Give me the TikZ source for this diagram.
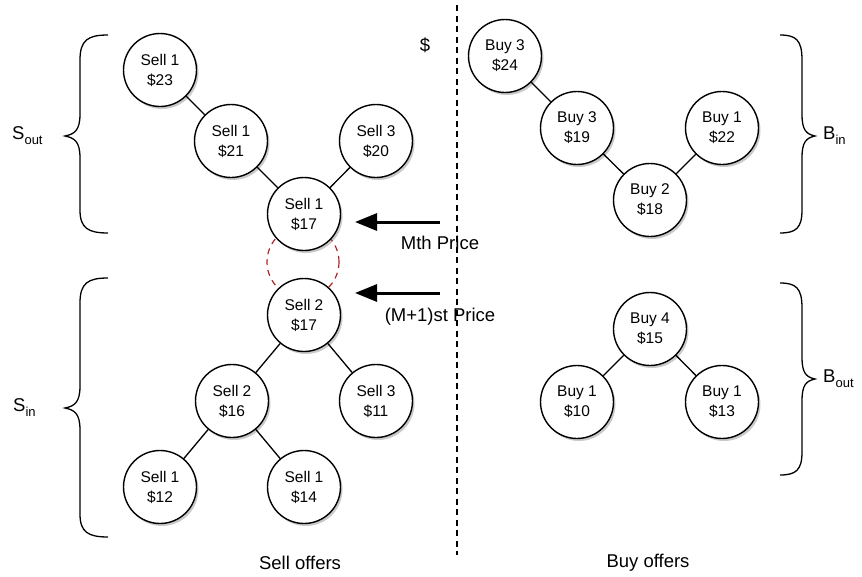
\documentclass[tikz,border=0pt]{standalone}
\usepackage{fontspec}
\setmainfont{Liberation Sans}
\usetikzlibrary{arrows.meta,shadows}
\definecolor{dashred}{RGB}{175,35,35}
\tikzset{
  offer/.style={circle, draw=black, line width=1.4pt, fill=white, minimum size=73pt, inner sep=0pt,
    align=center, font=\fontsize{15.5}{20}\selectfont,
    drop shadow={shadow xshift=2pt, shadow yshift=-2.5pt, opacity=0.35, fill=black!60}},
  edge/.style={line width=1.3pt, black},
  lbl/.style={font=\fontsize{18.5}{22}\selectfont, inner sep=0pt},
  bracestyle/.style={line width=1.3pt, black},
  bigarrow/.style={line width=3pt, -{Triangle[length=22pt,width=17pt]}},
}
\begin{document}
\begin{tikzpicture}[x=1pt,y=-1pt]
\useasboundingbox (0,0) rectangle (862,576);
% divider
\draw[line width=1.5pt, dash pattern=on 6pt off 4.5pt] (457,5) -- (457,555);
% red dashed ellipse
\draw[dashred, line width=1.2pt, dash pattern=on 6pt off 5pt] (303,262) circle (36);
% sell nodes
\node[offer] (S23) at (160,70) {Sell 1\\\$23};
\node[offer] (S21) at (231,141) {Sell 1\\\$21};
\node[offer] (S20) at (376,141) {Sell 3\\\$20};
\node[offer] (S17a) at (304,214) {Sell 1\\\$17};
\node[offer] (S17b) at (304,315) {Sell 2\\\$17};
\node[offer] (S16) at (232,401) {Sell 2\\\$16};
\node[offer] (S11) at (376,401) {Sell 3\\\$11};
\node[offer] (S12) at (160,487) {Sell 1\\\$12};
\node[offer] (S14) at (304,487) {Sell 1\\\$14};
% buy nodes
\node[offer] (B24) at (505,56) {Buy 3\\\$24};
\node[offer] (B19) at (577,128) {Buy 3\\\$19};
\node[offer] (B22) at (722,128) {Buy 1\\\$22};
\node[offer] (B18) at (650,200) {Buy 2\\\$18};
\node[offer] (B15) at (650,329) {Buy 4\\\$15};
\node[offer] (B10) at (577,402) {Buy 1\\\$10};
\node[offer] (B13) at (722,402) {Buy 1\\\$13};
% edges
\draw[edge] (S23) -- (S21);
\draw[edge] (S21) -- (S17a);
\draw[edge] (S20) -- (S17a);
\draw[edge] (S17b) -- (S16);
\draw[edge] (S17b) -- (S11);
\draw[edge] (S16) -- (S12);
\draw[edge] (S16) -- (S14);
\draw[edge] (B24) -- (B19);
\draw[edge] (B19) -- (B18);
\draw[edge] (B22) -- (B18);
\draw[edge] (B15) -- (B10);
\draw[edge] (B15) -- (B13);
% arrows
\coordinate (m1s) at (440,222);
\coordinate (m1t) at (355,222);
\coordinate (m2s) at (440,293);
\coordinate (m2t) at (355,293);
\draw[bigarrow] (m1s) -- (m1t);
\draw[bigarrow] (m2s) -- (m2t);
\node[lbl] (mth) at (440,243) {Mth Price};
\node[lbl] (mp1) at (440,317) {(M+1)st Price};
\node[lbl] (dollar) at (425,45) {\$};
% braces left
\draw[bracestyle] (108,35) .. controls (88,35) and (80,40) .. (80,60) -- (80,114)
  .. controls (80,130) and (75,134) .. (65,136) .. controls (75,138) and (80,142) .. (80,158)
  -- (80,210) .. controls (80,228) and (88,233) .. (108,233);
\draw[bracestyle] (108,278) .. controls (88,278) and (80,283) .. (80,303) -- (80,386)
  .. controls (80,402) and (75,406) .. (65,408) .. controls (75,410) and (80,414) .. (80,430)
  -- (80,514) .. controls (80,532) and (88,537) .. (108,537);
% braces right
\draw[bracestyle] (780,35) .. controls (796,35) and (802,40) .. (802,60) -- (802,114)
  .. controls (802,130) and (806,134) .. (815,136) .. controls (806,138) and (802,142) .. (802,158)
  -- (802,210) .. controls (802,228) and (796,233) .. (780,233);
\draw[bracestyle] (780,283) .. controls (796,283) and (802,288) .. (802,308) -- (802,357)
  .. controls (802,373) and (806,377) .. (815,379) .. controls (806,381) and (802,385) .. (802,401)
  -- (802,452) .. controls (802,470) and (796,475) .. (780,475);
% brace labels
\node[lbl, anchor=west] (sout) at (12,136) {S\raisebox{-5pt}{\fontsize{13}{13}\selectfont out}};
\node[lbl, anchor=west] (sin) at (13,408) {S\raisebox{-5pt}{\fontsize{13}{13}\selectfont in}};
\node[lbl, anchor=west] (bin) at (823,136) {B\raisebox{-5pt}{\fontsize{13}{13}\selectfont in}};
\node[lbl, anchor=west] (bout) at (823,379) {B\raisebox{-5pt}{\fontsize{13}{13}\selectfont out}};
% bottom labels
\node[lbl] (sell) at (300,563) {Sell offers};
\node[lbl] (buy) at (648,563) {Buy offers};
\end{tikzpicture}
\end{document}
